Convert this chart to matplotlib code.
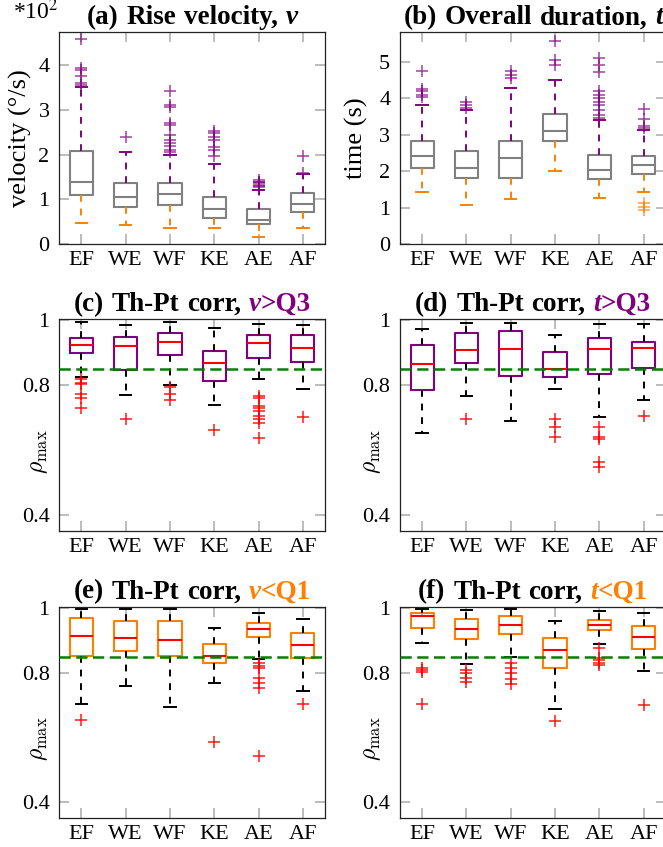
import matplotlib
matplotlib.use('Agg')
import matplotlib.pyplot as plt
from matplotlib.offsetbox import TextArea, HPacker, AnchoredOffsetbox

plt.rcParams['font.family'] = ['Liberation Serif', 'DejaVu Serif']
plt.rcParams['mathtext.fontset'] = 'stix'

W, H = 663, 847
fig = plt.figure(figsize=(W / 100, H / 100), dpi=100)

categories = ['EF', 'WE', 'WF', 'KE', 'AE', 'AF']
positions = [1, 2, 3, 4, 5, 6]

PURPLE = '#800080'
ORANGE = '#ff8000'
GRAY = '#808080'
RED = '#ff0000'
GREEN = '#008000'

# ---------------- (a) Rise velocity (x100 deg/s) ----------------
a_lo = [0.48, 0.42, 0.36, 0.37, 0.17, 0.36]
a_q1 = [1.10, 0.84, 0.88, 0.58, 0.45, 0.71]
a_med = [1.40, 1.06, 1.12, 0.79, 0.54, 0.90]
a_q3 = [2.08, 1.37, 1.37, 1.06, 0.79, 1.14]
a_hi = [3.50, 2.07, 2.00, 1.79, 1.22, 1.57]
a_out_hi = [[3.55, 3.60, 3.75, 3.90, 3.93, 4.57],
            [2.39],
            [2.06, 2.10, 2.19, 2.26, 2.33, 2.44, 2.66, 2.71, 3.07, 3.11, 3.41],
            [1.97, 2.10, 2.18, 2.33, 2.40, 2.48, 2.53],
            [1.27, 1.30, 1.33, 1.36, 1.38, 1.40, 1.43],
            [1.60, 1.97]]
a_out_lo = [[], [], [], [], [], []]

# ---------------- (b) Overall duration (s) ----------------
b_lo = [1.42, 1.08, 1.24, 2.02, 1.28, 1.44]
b_q1 = [2.08, 1.81, 1.83, 2.82, 1.79, 1.93]
b_med = [2.42, 2.08, 2.36, 3.11, 2.04, 2.18]
b_q3 = [2.82, 2.56, 2.82, 3.57, 2.45, 2.42]
b_hi = [3.82, 3.68, 4.28, 4.51, 3.40, 3.12]
b_out_hi = [[4.05, 4.10, 4.19, 4.25, 4.75],
            [3.73, 3.82, 3.90],
            [4.55, 4.64, 4.75],
            [4.92, 5.05, 5.56],
            [3.46, 3.55, 3.68, 3.82, 3.91, 4.00, 4.10, 4.19, 4.73, 4.92, 5.10],
            [3.18, 3.24, 3.43, 3.71]]
b_out_lo = [[], [], [], [], [], [1.13, 1.03, 0.95]]

# ---------------- (c) Th-Pt corr, v > Q3 ----------------
c_lo = [0.826, 0.771, 0.800, 0.740, 0.818, 0.788]
c_q1 = [0.899, 0.848, 0.893, 0.813, 0.884, 0.870]
c_med = [0.923, 0.920, 0.934, 0.867, 0.931, 0.916]
c_q3 = [0.944, 0.948, 0.962, 0.904, 0.955, 0.954]
c_hi = [0.995, 0.985, 0.995, 0.977, 0.990, 0.985]
c_out = [[0.818, 0.808, 0.803, 0.772, 0.761, 0.730],
         [0.695],
         [0.795, 0.772, 0.754],
         [0.662],
         [0.767, 0.760, 0.736, 0.731, 0.719, 0.705, 0.695, 0.682, 0.636],
         [0.703]]

# ---------------- (d) Th-Pt corr, t > Q3 ----------------
d_lo = [0.653, 0.768, 0.690, 0.788, 0.703, 0.754]
d_q1 = [0.785, 0.867, 0.829, 0.826, 0.834, 0.852]
d_med = [0.864, 0.908, 0.910, 0.849, 0.910, 0.915]
d_q3 = [0.923, 0.962, 0.967, 0.903, 0.944, 0.933]
d_hi = [0.974, 0.993, 0.993, 0.955, 0.988, 0.990]
d_out = [[],
         [0.695],
         [],
         [0.695, 0.670, 0.639],
         [0.670, 0.640, 0.635, 0.562, 0.547],
         [0.706]]

# ---------------- (e) Th-Pt corr, v < Q1 ----------------
e_lo = [0.704, 0.759, 0.695, 0.769, 0.842, 0.743]
e_q1 = [0.852, 0.867, 0.852, 0.829, 0.909, 0.847]
e_med = [0.913, 0.906, 0.901, 0.851, 0.934, 0.885]
e_q3 = [0.970, 0.960, 0.960, 0.890, 0.954, 0.922]
e_hi = [0.996, 0.996, 0.996, 0.939, 0.986, 0.966]
e_out = [[0.653],
         [],
         [],
         [0.587],
         [0.831, 0.821, 0.815, 0.784, 0.769, 0.753, 0.544],
         [0.704]]

# ---------------- (f) Th-Pt corr, t < Q1 ----------------
f_lo = [0.893, 0.828, 0.849, 0.687, 0.890, 0.805]
f_q1 = [0.937, 0.905, 0.919, 0.815, 0.932, 0.873]
f_med = [0.975, 0.936, 0.947, 0.870, 0.948, 0.911]
f_q3 = [0.986, 0.965, 0.975, 0.906, 0.963, 0.945]
f_hi = [0.998, 0.993, 0.998, 0.960, 0.990, 0.986]
f_out = [[0.815, 0.810, 0.802, 0.704],
         [0.810, 0.800, 0.785, 0.771],
         [0.831, 0.815, 0.800, 0.782, 0.764],
         [0.651],
         [0.878, 0.847, 0.838, 0.831, 0.823],
         [0.700]]

threshold = 0.85


def make_stats(lo, q1, med, q3, hi):
    return [dict(whislo=lo[i], q1=q1[i], med=med[i], q3=q3[i], whishi=hi[i], fliers=[])
            for i in range(len(lo))]


def add_axes_px(left, top, right, bottom):
    return fig.add_axes([left / W, 1 - bottom / H, (right - left) / W, (bottom - top) / H])


def style_axes(ax, ylim, yticks, yticklabels):
    ax.set_xlim(0.5, 6.5)
    ax.set_ylim(*ylim)
    ax.set_xticks(positions)
    ax.set_xticklabels(categories)
    ax.set_yticks(yticks)
    ax.set_yticklabels(yticklabels)
    ax.tick_params(direction='in', length=7, width=1.1, color='#aaaaaa',
                   top=True, right=True, labelsize=16, labelcolor='black')
    ax.tick_params(axis='x', pad=5)
    ax.tick_params(axis='y', pad=7)
    for s in ax.spines.values():
        s.set_color('#222222')
        s.set_linewidth(0.9)


def draw_boxes(ax, stats, box_color, med_color, lo_color, hi_color):
    art = ax.bxp(stats, positions=positions, widths=0.52, showfliers=False,
                 manage_ticks=False,
                 boxprops=dict(color=box_color, lw=1.5),
                 medianprops=dict(color=med_color, lw=1.5),
                 whiskerprops=dict(lw=1.4, linestyle=(0, (3.5, 3.5))),
                 capprops=dict(lw=1.4))
    for i in range(len(stats)):
        art['whiskers'][2 * i].set_color(lo_color)
        art['whiskers'][2 * i + 1].set_color(hi_color)
        art['caps'][2 * i].set_color(lo_color)
        art['caps'][2 * i + 1].set_color(hi_color)
    return art


def draw_fliers(ax, groups, color, alpha=1.0):
    for p, vals in zip(positions, groups):
        if vals:
            ax.plot([p] * len(vals), vals, linestyle='none', marker='+', color=color,
                    ms=8, mew=1.1, alpha=alpha, zorder=3)


def title_parts(ax, parts, size=19.5):
    # parts: list of word groups; each group a list of (text, color, style)
    groups = []
    for g in parts:
        areas = [TextArea(t, textprops=dict(fontsize=size, fontweight='bold', color=c,
                                            fontstyle=st, family=['Liberation Serif']))
                 for (t, c, st) in g]
        groups.append(HPacker(children=areas, align='baseline', pad=0, sep=0))
    box = HPacker(children=groups, align='baseline', pad=0, sep=5.5)
    anch = AnchoredOffsetbox(loc='lower center', child=box, pad=0, borderpad=0,
                             frameon=False, bbox_to_anchor=(0.5, 1.01),
                             bbox_transform=ax.transAxes)
    ax.add_artist(anch)


# ---------------- layout ----------------
L1, R1 = 59.3, 325.0
L2, R2 = 400.0, 665.7
rows = [(32.3, 244.3), (319.0, 530.7), (606.7, 818.3)]

# (a)
ax = add_axes_px(L1, rows[0][0], R1, rows[0][1])
draw_boxes(ax, make_stats(a_lo, a_q1, a_med, a_q3, a_hi), GRAY, GRAY, ORANGE, PURPLE)
draw_fliers(ax, a_out_hi, PURPLE, 0.75)
draw_fliers(ax, a_out_lo, ORANGE, 0.75)
style_axes(ax, (0, 4.73), [0, 1, 2, 3, 4], ['0', '1', '2', '3', '4'])
ax.set_ylabel('velocity (°/s)', fontsize=19)
ax.yaxis.set_label_coords(-0.103, 0.5)
title_parts(ax, [[('(a)', 'black', 'normal')], [('Rise', 'black', 'normal')],
                 [('velocity,', 'black', 'normal')], [('v', 'black', 'italic')]])
fig.text(13 / W, 1 - 19 / H, r'*10$^{2}$', fontsize=17, ha='left', va='baseline')

# (b)
ax = add_axes_px(L2, rows[0][0], R2, rows[0][1])
draw_boxes(ax, make_stats(b_lo, b_q1, b_med, b_q3, b_hi), GRAY, GRAY, ORANGE, PURPLE)
draw_fliers(ax, b_out_hi, PURPLE, 0.75)
draw_fliers(ax, b_out_lo, ORANGE, 0.75)
style_axes(ax, (0, 5.81), [0, 1, 2, 3, 4, 5], ['0', '1', '2', '3', '4', '5'])
ax.set_ylabel('time (s)', fontsize=19)
ax.yaxis.set_label_coords(-0.119, 0.5)
title_parts(ax, [[('(b)', 'black', 'normal')], [('Overall', 'black', 'normal')],
                 [('duration,', 'black', 'normal')], [('t', 'black', 'italic')]])

corr_panels = [
    ('c', L1, R1, rows[1], (c_lo, c_q1, c_med, c_q3, c_hi), c_out, PURPLE, 'v', '>Q3', -0.035),
    ('d', L2, R2, rows[1], (d_lo, d_q1, d_med, d_q3, d_hi), d_out, PURPLE, 't', '>Q3', -0.064),
    ('e', L1, R1, rows[2], (e_lo, e_q1, e_med, e_q3, e_hi), e_out, ORANGE, 'v', '<Q1', -0.035),
    ('f', L2, R2, rows[2], (f_lo, f_q1, f_med, f_q3, f_hi), f_out, ORANGE, 't', '<Q1', -0.064),
]

for letter, l, r, (t, b), five, outs, col, var, cond, lx in corr_panels:
    ax = add_axes_px(l, t, r, b)
    draw_boxes(ax, make_stats(*five), col, RED, 'black', 'black')
    draw_fliers(ax, outs, RED, 0.9)
    ax.axhline(threshold, color=GREEN, lw=1.8, linestyle=(0, (4.5, 2.2)), zorder=5)
    style_axes(ax, (0.351, 1.004), [0.4, 0.8, 1.0], ['0.4', '0.8', '1'])
    ax.set_ylabel(r'$\rho_{\max}$', fontsize=17, math_fontfamily='cm')
    ax.yaxis.set_label_coords(lx, 0.375)
    title_parts(ax, [[('(%s)' % letter, 'black', 'normal')], [('Th-Pt', 'black', 'normal')],
                     [('corr,', 'black', 'normal')],
                     [(var, col, 'italic'), (cond, col, 'normal')]])

fig.savefig('out.png', dpi=100)
